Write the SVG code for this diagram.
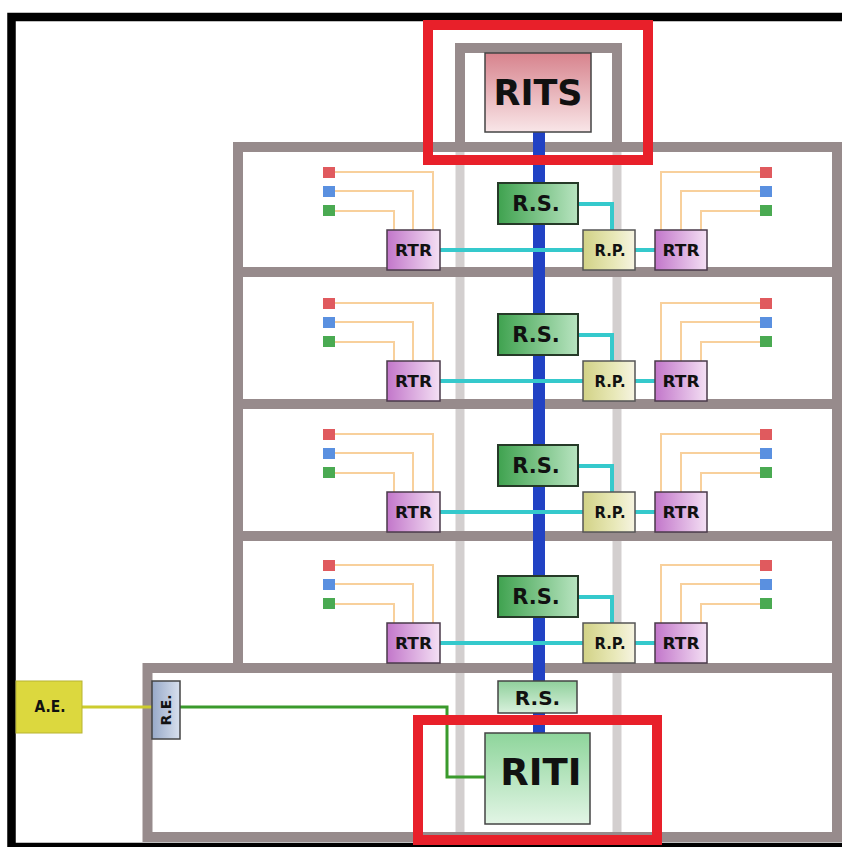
<svg xmlns="http://www.w3.org/2000/svg" width="842" height="847" viewBox="0 0 842 847">
<defs>
<linearGradient id="gRits" x1="0" y1="0" x2="0" y2="1"><stop offset="0" stop-color="#d7838d"/><stop offset="1" stop-color="#f9e6e8"/></linearGradient>
<linearGradient id="gRS" x1="0" y1="0" x2="1" y2="0"><stop offset="0" stop-color="#3fa24f"/><stop offset="1" stop-color="#b8e4c0"/></linearGradient>
<linearGradient id="gRS5" x1="0" y1="0" x2="0" y2="1"><stop offset="0" stop-color="#8fd09b"/><stop offset="1" stop-color="#d9f1dd"/></linearGradient>
<linearGradient id="gRITI" x1="0" y1="0" x2="0" y2="1"><stop offset="0" stop-color="#8ed59b"/><stop offset="1" stop-color="#e2f5e5"/></linearGradient>
<linearGradient id="gRTR" x1="0" y1="0" x2="1" y2="0"><stop offset="0" stop-color="#c276ca"/><stop offset="1" stop-color="#f4e0f4"/></linearGradient>
<linearGradient id="gRP" x1="0" y1="0" x2="1" y2="0"><stop offset="0" stop-color="#d2d286"/><stop offset="0.6" stop-color="#e8e8b8"/><stop offset="1" stop-color="#f6f4e2"/></linearGradient>
<linearGradient id="gRE" x1="0" y1="0" x2="1" y2="0"><stop offset="0" stop-color="#97a9c8"/><stop offset="1" stop-color="#d8e0ee"/></linearGradient>
</defs>
<style>
text{font-family:"DejaVu Sans","Verdana",sans-serif;font-weight:bold;fill:#111;text-anchor:middle}
.wall{stroke:#978b8c;stroke-width:10;fill:none}
.shaft{stroke:#d3cfcf;stroke-width:9;fill:none}
.riser{stroke:#2142c4;stroke-width:12;fill:none}
.cyan{stroke:#35c9cc;stroke-width:4;fill:none}
.wire{stroke:#f8d09c;stroke-width:2;fill:none}
.red{stroke:#e8202a;stroke-width:10;fill:none}
.box{stroke:#444;stroke-width:1.5}
.rs{fill:url(#gRS);stroke:#263a28;stroke-width:2}
.rtr{fill:url(#gRTR);stroke:#4a3a4a;stroke-width:1.5}
.rp{fill:url(#gRP);stroke:#555;stroke-width:1.5}
.sq-r{fill:#e05a5e}.sq-b{fill:#5a90e0}.sq-g{fill:#4aaa52}
</style>
<rect width="842" height="847" fill="#ffffff"/>
<rect x="11.5" y="17" width="840" height="830" fill="none" stroke="#000" stroke-width="8.5"/>

<g id="building">
  <path class="shaft" d="M460,147V837M617,147V837"/>
  <path class="wall" d="M238,668V147H837V837"/>
  <path class="wall" d="M233,272H842M233,404H842M233,536H842"/>
  <path class="wall" d="M842,668H147.5V837H842"/>
  <path class="wall" d="M460,147V48H617V147"/>
</g>

<g id="connectors">
  <path class="riser" d="M539,132V733"/>
  <g id="floor-wires">
    <g transform="translate(0,0)">
      <path class="cyan" d="M578,204H612V230M440,250H583M635,250H655"/>
      <path class="wire" d="M335,172H433V230M335,191H413V230M335,211H394V230M760,172H661V230M760,191H681V230M760,211H701V230"/>
    </g>
    <g transform="translate(0,131)">
      <path class="cyan" d="M578,204H612V230M440,250H583M635,250H655"/>
      <path class="wire" d="M335,172H433V230M335,191H413V230M335,211H394V230M760,172H661V230M760,191H681V230M760,211H701V230"/>
    </g>
    <g transform="translate(0,262)">
      <path class="cyan" d="M578,204H612V230M440,250H583M635,250H655"/>
      <path class="wire" d="M335,172H433V230M335,191H413V230M335,211H394V230M760,172H661V230M760,191H681V230M760,211H701V230"/>
    </g>
    <g transform="translate(0,393)">
      <path class="cyan" d="M578,204H612V230M440,250H583M635,250H655"/>
      <path class="wire" d="M335,172H433V230M335,191H413V230M335,211H394V230M760,172H661V230M760,191H681V230M760,211H701V230"/>
    </g>
  </g>
  <path d="M82,707H153" stroke="#cccc2e" stroke-width="3" fill="none"/>
  <path d="M180,707H447V777H485" stroke="#3a9a2c" stroke-width="3" fill="none"/>
</g>

<g id="RITS">
  <rect x="485" y="53" width="106" height="79" fill="url(#gRits)" class="box"/>
  <text x="538" y="105" font-size="35">RITS</text>
</g>

<g id="floor1" transform="translate(0,0)">
  <rect class="sq-r" x="323" y="167" width="12" height="11"/><rect class="sq-b" x="323" y="186" width="12" height="11"/><rect class="sq-g" x="323" y="205" width="12" height="11"/>
  <rect class="sq-r" x="760" y="167" width="12" height="11"/><rect class="sq-b" x="760" y="186" width="12" height="11"/><rect class="sq-g" x="760" y="205" width="12" height="11"/>
  <g id="RS1"><rect class="rs" x="498" y="183" width="80" height="41"/><text x="536" y="211" font-size="21">R.S.</text></g>
  <g id="RTR1L"><rect class="rtr" x="387" y="230" width="53" height="40"/><text x="413.5" y="256" font-size="15" textLength="37" lengthAdjust="spacingAndGlyphs">RTR</text></g>
  <g id="RP1"><rect class="rp" x="583" y="230" width="52" height="40"/><text x="610" y="256" font-size="15" textLength="31" lengthAdjust="spacingAndGlyphs">R.P.</text></g>
  <g id="RTR1R"><rect class="rtr" x="655" y="230" width="52" height="40"/><text x="681" y="256" font-size="15" textLength="37" lengthAdjust="spacingAndGlyphs">RTR</text></g>
</g>
<g id="floor2" transform="translate(0,131)">
  <rect class="sq-r" x="323" y="167" width="12" height="11"/><rect class="sq-b" x="323" y="186" width="12" height="11"/><rect class="sq-g" x="323" y="205" width="12" height="11"/>
  <rect class="sq-r" x="760" y="167" width="12" height="11"/><rect class="sq-b" x="760" y="186" width="12" height="11"/><rect class="sq-g" x="760" y="205" width="12" height="11"/>
  <g id="RS2"><rect class="rs" x="498" y="183" width="80" height="41"/><text x="536" y="211" font-size="21">R.S.</text></g>
  <g id="RTR2L"><rect class="rtr" x="387" y="230" width="53" height="40"/><text x="413.5" y="256" font-size="15" textLength="37" lengthAdjust="spacingAndGlyphs">RTR</text></g>
  <g id="RP2"><rect class="rp" x="583" y="230" width="52" height="40"/><text x="610" y="256" font-size="15" textLength="31" lengthAdjust="spacingAndGlyphs">R.P.</text></g>
  <g id="RTR2R"><rect class="rtr" x="655" y="230" width="52" height="40"/><text x="681" y="256" font-size="15" textLength="37" lengthAdjust="spacingAndGlyphs">RTR</text></g>
</g>
<g id="floor3" transform="translate(0,262)">
  <rect class="sq-r" x="323" y="167" width="12" height="11"/><rect class="sq-b" x="323" y="186" width="12" height="11"/><rect class="sq-g" x="323" y="205" width="12" height="11"/>
  <rect class="sq-r" x="760" y="167" width="12" height="11"/><rect class="sq-b" x="760" y="186" width="12" height="11"/><rect class="sq-g" x="760" y="205" width="12" height="11"/>
  <g id="RS3"><rect class="rs" x="498" y="183" width="80" height="41"/><text x="536" y="211" font-size="21">R.S.</text></g>
  <g id="RTR3L"><rect class="rtr" x="387" y="230" width="53" height="40"/><text x="413.5" y="256" font-size="15" textLength="37" lengthAdjust="spacingAndGlyphs">RTR</text></g>
  <g id="RP3"><rect class="rp" x="583" y="230" width="52" height="40"/><text x="610" y="256" font-size="15" textLength="31" lengthAdjust="spacingAndGlyphs">R.P.</text></g>
  <g id="RTR3R"><rect class="rtr" x="655" y="230" width="52" height="40"/><text x="681" y="256" font-size="15" textLength="37" lengthAdjust="spacingAndGlyphs">RTR</text></g>
</g>
<g id="floor4" transform="translate(0,393)">
  <rect class="sq-r" x="323" y="167" width="12" height="11"/><rect class="sq-b" x="323" y="186" width="12" height="11"/><rect class="sq-g" x="323" y="205" width="12" height="11"/>
  <rect class="sq-r" x="760" y="167" width="12" height="11"/><rect class="sq-b" x="760" y="186" width="12" height="11"/><rect class="sq-g" x="760" y="205" width="12" height="11"/>
  <g id="RS4"><rect class="rs" x="498" y="183" width="80" height="41"/><text x="536" y="211" font-size="21">R.S.</text></g>
  <g id="RTR4L"><rect class="rtr" x="387" y="230" width="53" height="40"/><text x="413.5" y="256" font-size="15" textLength="37" lengthAdjust="spacingAndGlyphs">RTR</text></g>
  <g id="RP4"><rect class="rp" x="583" y="230" width="52" height="40"/><text x="610" y="256" font-size="15" textLength="31" lengthAdjust="spacingAndGlyphs">R.P.</text></g>
  <g id="RTR4R"><rect class="rtr" x="655" y="230" width="52" height="40"/><text x="681" y="256" font-size="15" textLength="37" lengthAdjust="spacingAndGlyphs">RTR</text></g>
</g>

<g id="RS5">
  <rect x="498" y="681" width="79" height="32" fill="url(#gRS5)" class="box"/>
  <text x="537.5" y="705" font-size="20">R.S.</text>
</g>
<g id="RITI">
  <rect x="485" y="733" width="105" height="91" fill="url(#gRITI)" class="box"/>
  <text x="541" y="785" font-size="37">RITI</text>
</g>
<g id="AE">
  <rect x="16" y="681" width="66" height="52" fill="#dcd83e" stroke="#b8b430" stroke-width="1"/>
  <text x="50" y="712" font-size="15" textLength="31" lengthAdjust="spacingAndGlyphs">A.E.</text>
</g>
<g id="RE">
  <rect x="152" y="681" width="28" height="58" fill="url(#gRE)" class="box"/>
  <text transform="translate(171,710) rotate(-90)" x="0" y="0" font-size="14" textLength="31" lengthAdjust="spacingAndGlyphs">R.E.</text>
</g>

<g id="highlights">
  <rect class="red" x="428" y="25" width="220" height="135"/>
  <rect class="red" x="418" y="720" width="239" height="120"/>
</g>
</svg>
